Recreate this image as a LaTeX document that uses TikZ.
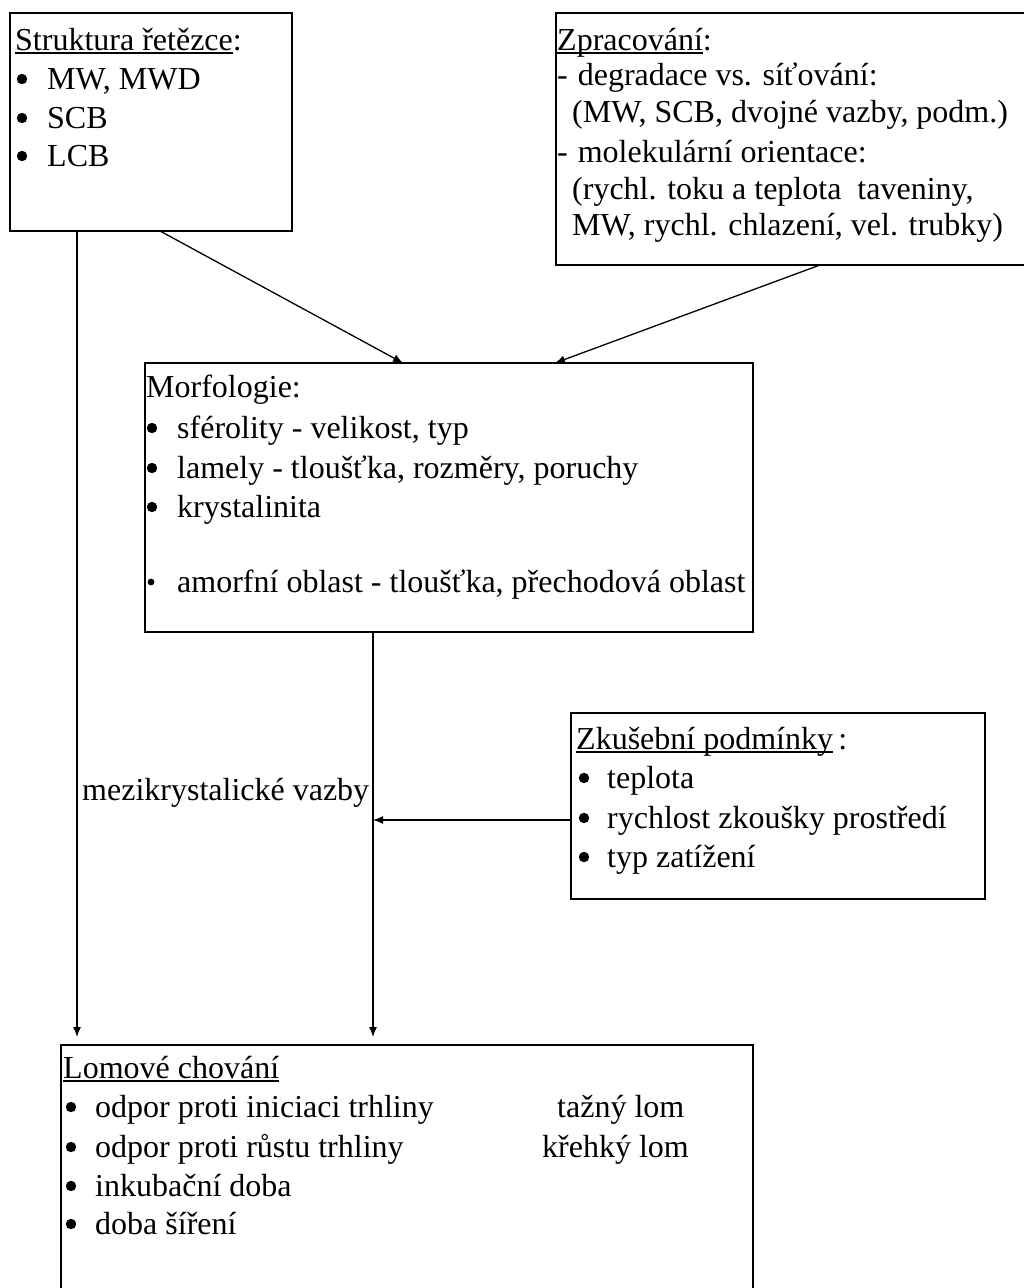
\documentclass[tikz,border=0pt]{standalone}
\usepackage{fontspec}
\setmainfont{Liberation Serif}
\usetikzlibrary{arrows.meta,calc}
\newsavebox\ulbox
\newcommand\myul[1]{\sbox\ulbox{#1}\rlap{\rule[-3.5pt]{\wd\ulbox}{1.6pt}}\usebox\ulbox}
\begin{document}
\begin{tikzpicture}[x=1pt,y=-1pt,
  box/.style={draw, line width=1.8pt, inner sep=0pt, outer sep=0pt, anchor=north west},
  txt/.style={anchor=base west, inner sep=0pt, font=\fontsize{32}{39}\selectfont},
  arr/.style={line width=1.3pt, -{Latex[length=10pt,width=8pt]}},
  bullet/.style={fill=black}]
\useasboundingbox (0,0) rectangle (1024,1288);
\clip (0,0) rectangle (1024,1288);
% boxes
\node[box, minimum width=282pt, minimum height=218pt] (s) at (10,13) {};
\node[box, minimum width=490pt, minimum height=252pt] (z) at (556,13) {};
\node[box, minimum width=608pt, minimum height=269pt] (m) at (145,363) {};
\node[box, minimum width=414pt, minimum height=186pt] (k) at (571,713) {};
\node[box, minimum width=692pt, minimum height=320pt] (l) at (61,1045) {};
% Struktura
\node[txt] (s0) at (15,50) {\myul{Struktura řetězce}:};
\node[txt] (s1) at (47,89) {MW, MWD};
\node[txt] (s2) at (47,128) {SCB};
\node[txt] (s3) at (47,166) {LCB};
\foreach \y in {79,118,156} \fill[bullet] (22,\y) circle (5.2pt);
% Zpracovani
\node[txt] (z0) at (557,50) {\myul{Zpracování}:};
\node[txt] (z1) at (557,85) {-\hspace{10pt}degradace vs. síťování:};
\node[txt] (z2) at (572,122) {(MW, SCB, dvojné vazby, podm.)};
\node[txt] (z3) at (557,162) {-\hspace{10pt}molekulární orientace:};
\node[txt] (z4) at (572,199) {(rychl. toku a teplota \ taveniny,};
\node[txt] (z5) at (572,235) {MW, rychl. chlazení, vel. trubky)};
% Morfologie
\node[txt] (m0) at (146,397) {Morfologie:};
\node[txt] (m1) at (177,438) {sférolity - velikost, typ};
\node[txt] (m2) at (177,478) {lamely - tloušťka, rozměry, poruchy};
\node[txt] (m3) at (177,517) {krystalinita};
\node[txt] (m4) at (177,592) {amorfní oblast - tloušťka, přechodová oblast};
\foreach \y in {428,468,507} \fill[bullet] (152,\y) circle (5.2pt);
\fill[bullet] (151,582) circle (3.4pt);
% Zkusebni
\node[txt] (k0) at (576,749) {\myul{Zkušební podmínky}\,:};
\node[txt] (k1) at (607,788) {teplota};
\node[txt] (k2) at (607,828) {rychlost zkoušky prostředí};
\node[txt] (k3) at (607,867) {typ zatížení};
\foreach \y in {778,818,857} \fill[bullet] (584,\y) circle (5.2pt);
% Lomove
\node[txt] (l0) at (63,1078) {\myul{Lomové chování}};
\node[txt] (l1) at (95,1117) {odpor proti iniciaci trhliny};
\node[txt] (l2) at (95,1157) {odpor proti růstu trhliny};
\node[txt] (l3) at (95,1196) {inkubační doba};
\node[txt] (l4) at (95,1234) {doba šíření};
\foreach \y in {1107,1147,1186,1224} \fill[bullet] (71,\y) circle (5.2pt);
\node[txt] (lt1) at (557,1117) {tažný lom};
\node[txt] (lt2) at (542,1157) {křehký lom};
% label
\node[txt] (lbl) at (82,800) {mezikrystalické vazby};
% connectors
\draw[arr] ([xshift=150pt]s.south west) -- ([xshift=258pt]m.north west);
\draw[arr] ([xshift=264pt]z.south west) -- ([xshift=410pt]m.north west);
\draw[arr] ([xshift=67pt]s.south west) -- ([xshift=16pt,yshift=8pt]l.north west);
\coordinate (mv) at ([xshift=228pt]m.south west);
\draw[arr] (mv) -- ([xshift=312pt,yshift=8pt]l.north west);
\coordinate (kin) at ([yshift=-107pt]k.north west);
\draw[arr] (kin) -- (mv |- kin);
\end{tikzpicture}
\end{document}
